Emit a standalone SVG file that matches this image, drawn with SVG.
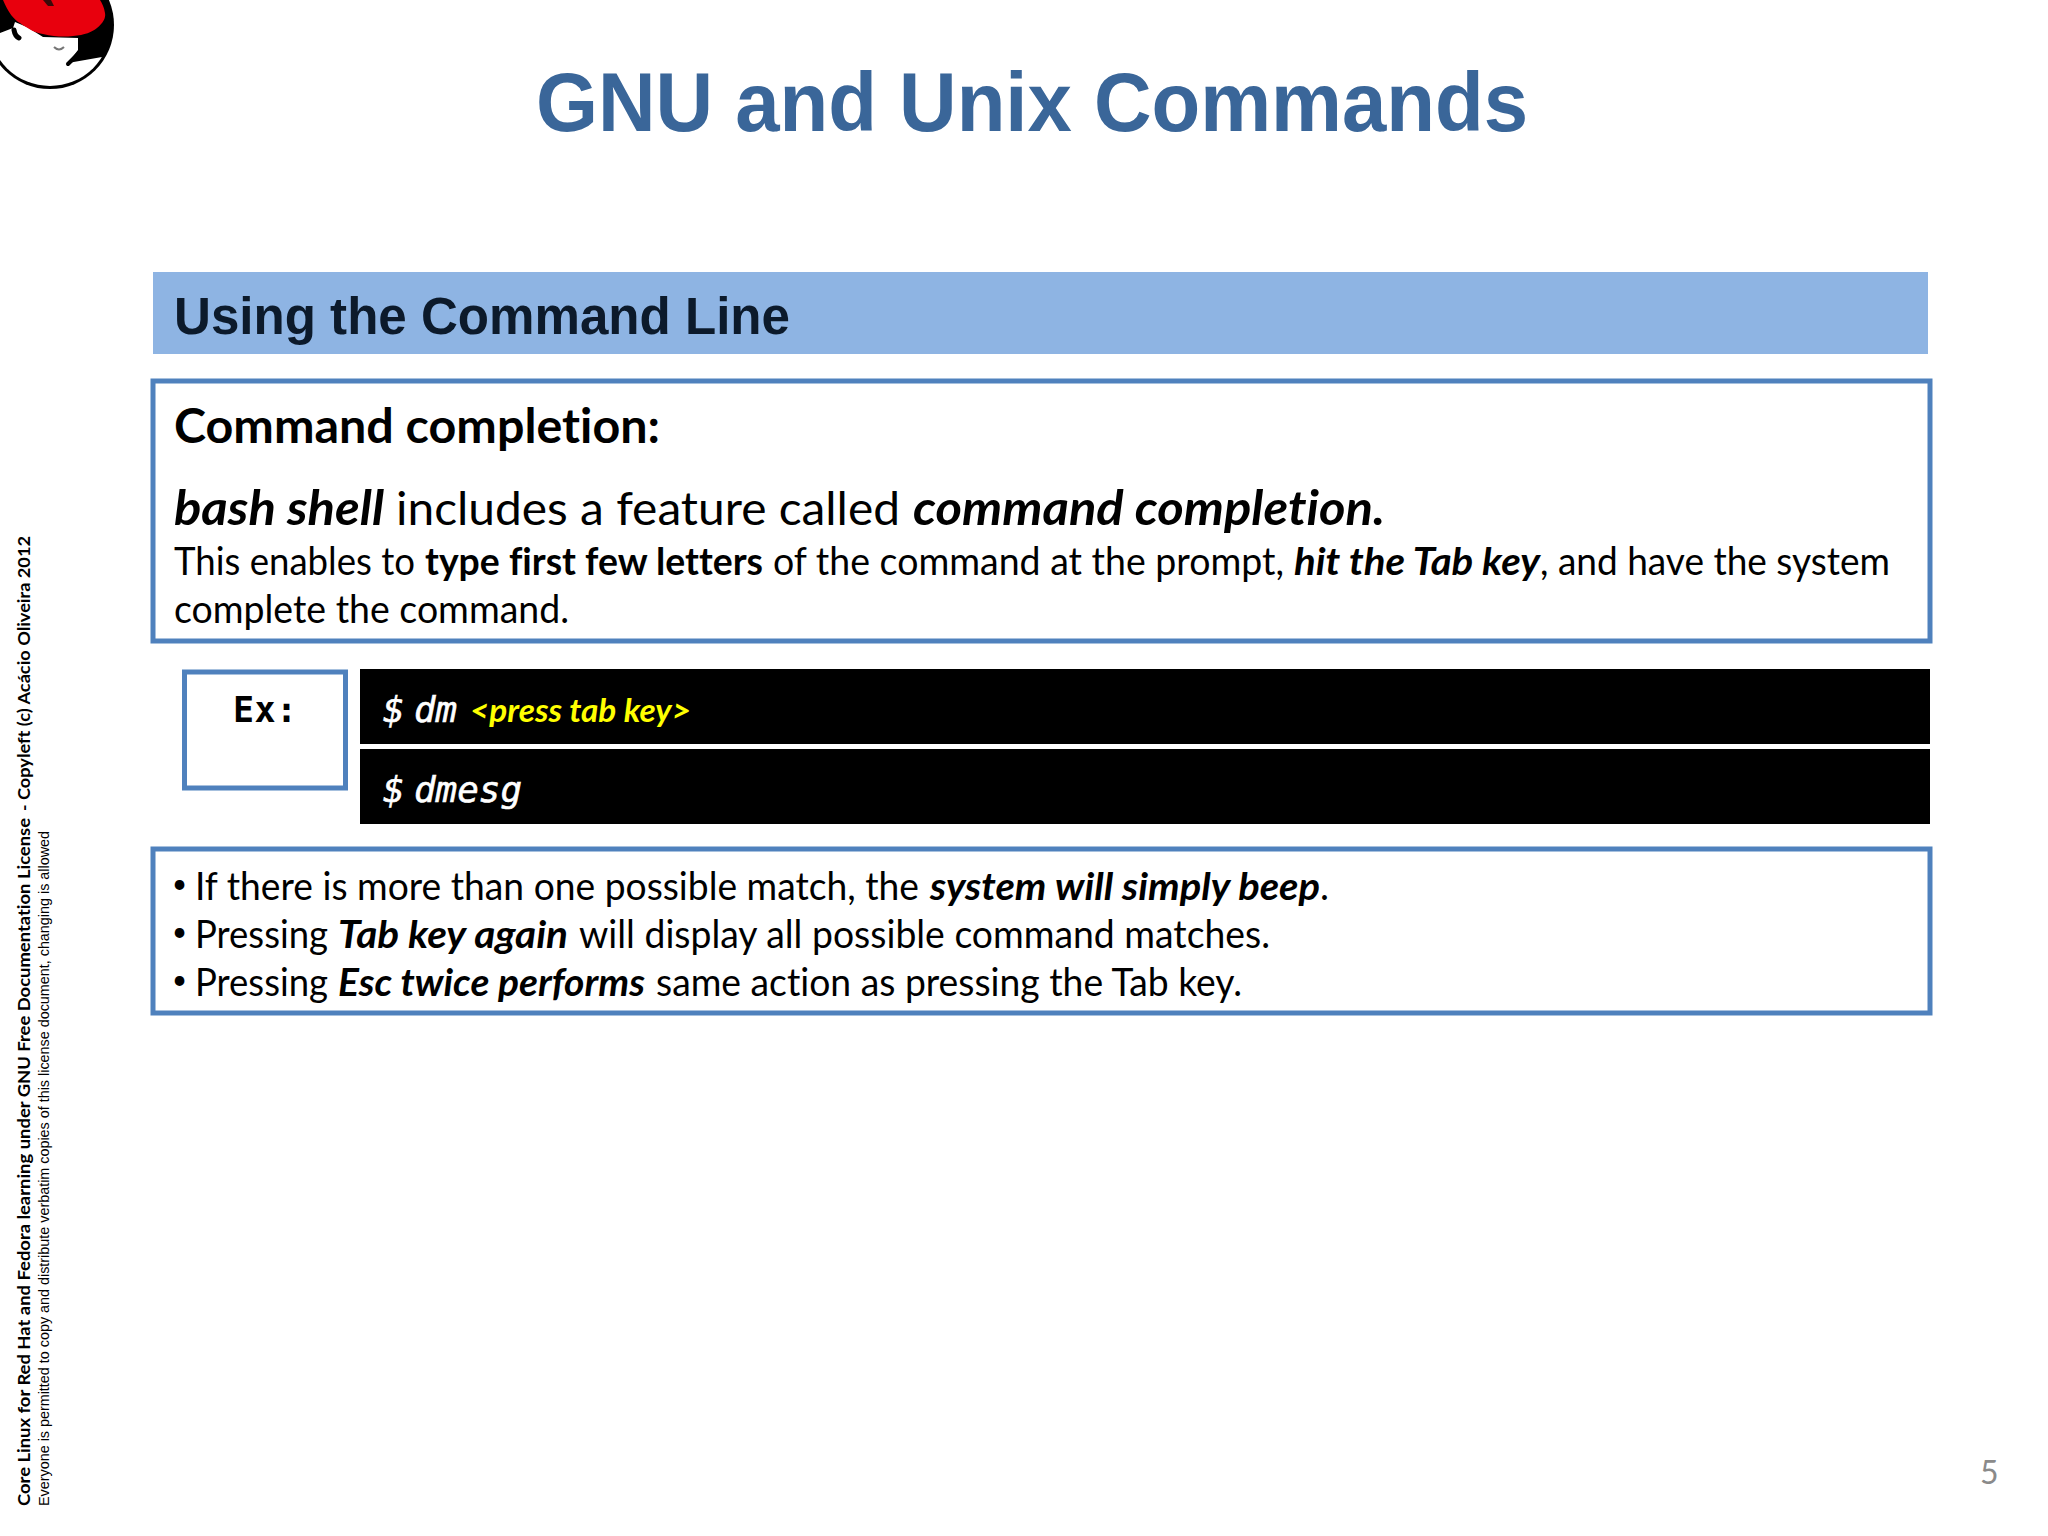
<svg xmlns="http://www.w3.org/2000/svg" width="2048" height="1536" viewBox="0 0 2048 1536">
<style>
text{font-variant-ligatures:none}
.c{font-family:Lato,"Open Sans",sans-serif;fill:#000}
.b{font-weight:700}
.bi{font-weight:700;font-style:italic}
.box{fill:#fff;stroke:#4f81bd;stroke-width:5}
.term{fill:#000}
.m{font-family:"DejaVu Sans Mono","Liberation Mono",monospace;font-style:italic;fill:#fff;stroke:#fff;stroke-width:.6;font-size:36px}
.l{font-size:47px}
.s{font-size:38px}
.d{font-size:26px}
.sb{font-size:17.5px}
</style>
<defs><clipPath id="disc"><circle cx="50" cy="25" r="61"/></clipPath></defs>
<rect width="2048" height="1536" fill="#fff"/>
<g id="logo">
<circle cx="50" cy="25" r="64" fill="#000"/>
<g clip-path="url(#disc)">
<path d="M-20 34L0 33L13 28L15 22L27 27L43 37L78 38L78 50L68 63L102 57L110 90L-20 100Z" fill="#fff"/>
<path d="M14 30Q15 36 19 38" fill="none" stroke="#000" stroke-width="5" stroke-linecap="round"/>
<path d="M68 64L78 54" fill="none" stroke="#000" stroke-width="4" stroke-linecap="round"/>
</g>
<path d="M3 0C8 12 14 20 20 23C28 29 36 33 43 34C55 37 65 37 73 36C85 35 92 32 97 28C103 23 106 18 105 13C104 7 102 3 100 0Z" fill="#e8000d"/>
<path d="M43 0L48 6L54 6L51 0Z" fill="#3a0a0a"/>
<path d="M54 47Q59 52 64 47" fill="none" stroke="#777" stroke-width="2"/>
</g>
<g id="title"><text x="1032" y="131" text-anchor="middle" textLength="992" lengthAdjust="spacingAndGlyphs" font-family="Liberation Sans" font-weight="700" font-size="84" fill="#3a6699">GNU and Unix Commands</text></g>
<g id="header">
<rect x="153" y="272" width="1775" height="82" fill="#8eb4e3"/>
<text x="174" y="334" textLength="616" lengthAdjust="spacingAndGlyphs" font-family="Liberation Sans" font-weight="700" font-size="51" fill="#0c1a2b">Using the Command Line</text>
</g>
<g id="box-completion">
<rect class="box" x="153" y="381" width="1777" height="260"/>
<text class="c b l" x="174" y="443" textLength="486" lengthAdjust="spacingAndGlyphs">Command completion:</text>
<text class="c bi l" x="174" y="525" textLength="210" lengthAdjust="spacingAndGlyphs">bash shell</text>
<text class="c l" x="396" y="525" textLength="504" lengthAdjust="spacingAndGlyphs">includes a feature called</text>
<text class="c bi l" x="913" y="525" textLength="472" lengthAdjust="spacingAndGlyphs">command completion.</text>
<text class="c s" x="174" y="575" textLength="241" lengthAdjust="spacingAndGlyphs">This enables to</text>
<text class="c b s" x="425" y="575" textLength="338" lengthAdjust="spacingAndGlyphs">type first few letters</text>
<text class="c s" x="773" y="575" textLength="511" lengthAdjust="spacingAndGlyphs">of the command at the prompt,</text>
<text class="c bi s" x="1294" y="575" textLength="246" lengthAdjust="spacingAndGlyphs">hit the Tab key</text>
<text class="c s" x="1540" y="575" textLength="350" lengthAdjust="spacingAndGlyphs">, and have the system</text>
<text class="c s" x="174" y="623" textLength="395" lengthAdjust="spacingAndGlyphs">complete the command.</text>
</g>
<g id="box-ex">
<rect class="box" x="184.500" y="672" width="161" height="116"/>
<text x="233" y="722" font-family="DejaVu Sans Mono" font-weight="700" font-size="35" fill="#000" textLength="64">Ex:</text>
</g>
<g id="terminal-1">
<rect class="term" x="360" y="669" width="1570" height="75"/>
<text class="m" x="383" y="722">$</text>
<text class="m" x="414" y="722" textLength="43" lengthAdjust="spacingAndGlyphs">dm</text>
<text x="470" y="722" font-family="Lato" font-weight="700" font-style="italic" font-size="32" fill="#ff0" textLength="221" lengthAdjust="spacingAndGlyphs">&lt;press tab key&gt;</text>
</g>
<g id="terminal-2">
<rect class="term" x="360" y="749" width="1570" height="75"/>
<text class="m" x="383" y="802">$</text>
<text class="m" x="414" y="802" textLength="108" lengthAdjust="spacingAndGlyphs">dmesg</text>
</g>
<g id="box-notes">
<rect class="box" x="153" y="849" width="1777" height="164"/>
<text class="c d" x="172" y="893">•</text>
<text class="c s" x="195" y="900" textLength="724" lengthAdjust="spacingAndGlyphs">If there is more than one possible match, the</text>
<text class="c bi s" x="930" y="900" textLength="390" lengthAdjust="spacingAndGlyphs">system will simply beep</text>
<text class="c s" x="1320" y="900">.</text>
<text class="c d" x="172" y="941">•</text>
<text class="c s" x="195" y="948" textLength="133" lengthAdjust="spacingAndGlyphs">Pressing</text>
<text class="c bi s" x="338" y="948" textLength="230" lengthAdjust="spacingAndGlyphs">Tab key again</text>
<text class="c s" x="579" y="948" textLength="691" lengthAdjust="spacingAndGlyphs">will display all possible command matches.</text>
<text class="c d" x="172" y="989">•</text>
<text class="c s" x="195" y="996" textLength="133" lengthAdjust="spacingAndGlyphs">Pressing</text>
<text class="c bi s" x="338" y="996" textLength="307" lengthAdjust="spacingAndGlyphs">Esc twice performs</text>
<text class="c s" x="656" y="996" textLength="586" lengthAdjust="spacingAndGlyphs">same action as pressing the Tab key.</text>
</g>
<g id="side-notes">
<text transform="translate(30,1506) rotate(-90)" class="c b sb" textLength="688" lengthAdjust="spacingAndGlyphs">Core Linux for Red Hat and Fedora learning under GNU Free Documentation License</text>
<text transform="translate(30,811) rotate(-90)" class="c b sb">-</text>
<text transform="translate(30,800) rotate(-90)" class="c b sb" textLength="264" lengthAdjust="spacingAndGlyphs">Copyleft (c) Acácio Oliveira 2012</text>
<text transform="translate(49,1506) rotate(-90)" font-family="Liberation Sans" font-size="14.5" fill="#000" textLength="675" lengthAdjust="spacingAndGlyphs">Everyone is permitted to copy and distribute verbatim copies of this license document, changing is allowed</text>
</g>
<g id="page"><text class="c" x="1980" y="1484" font-size="32" style="fill:#8a8a8a">5</text></g>
</svg>
